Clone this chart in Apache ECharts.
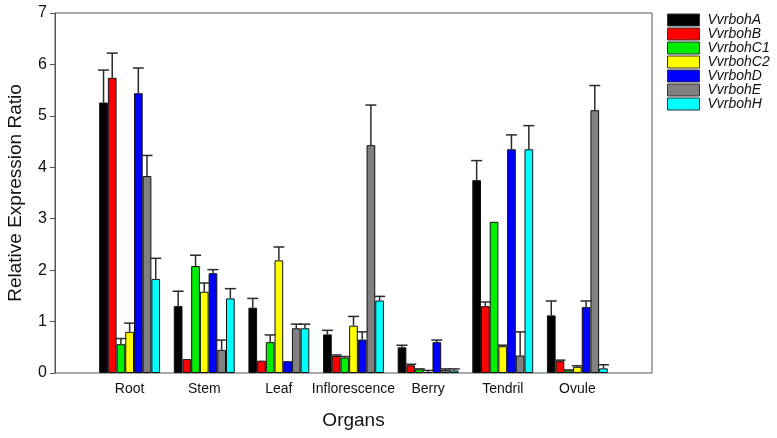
<!DOCTYPE html>
<html>
<head>
<meta charset="utf-8">
<script src="https://cdn.jsdelivr.net/npm/echarts@6/dist/echarts.min.js"></script>
<style>
html,body{margin:0;padding:0;background:#fff;}
#chart{width:777px;height:438px;}
</style>
</head>
<body>
<div id="chart"></div>
<script>
const categories = ['Root', 'Stem', 'Leaf', 'Inflorescence', 'Berry', 'Tendril', 'Ovule'];
const seriesNames = ['VvrbohA', 'VvrbohB', 'VvrbohC1', 'VvrbohC2', 'VvrbohD', 'VvrbohE', 'VvrbohH'];
const colors = ['#000000', '#ff0000', '#00ee00', '#ffff00', '#0000ff', '#808080', '#00ffff'];

const valA  = [5.26, 1.30, 1.27, 0.75, 0.50, 3.75, 1.12];
const errA  = [0.63, 0.29, 0.18, 0.08, 0.04, 0.38, 0.28];
const valB  = [5.74, 0.27, 0.24, 0.33, 0.15, 1.30, 0.23];
const errB  = [0.48, 0.00, 0.00, 0.02, 0.02, 0.08, 0.02];
const valC1 = [0.56, 2.08, 0.60, 0.30, 0.07, 2.94, 0.05];
const errC1 = [0.11, 0.21, 0.14, 0.02, 0.01, 0.00, 0.01];
const valC2 = [0.80, 1.58, 2.19, 0.92, 0.02, 0.52, 0.12];
const errC2 = [0.17, 0.17, 0.26, 0.18, 0.03, 0.02, 0.02];
const valD  = [5.44, 1.94, 0.23, 0.65, 0.60, 4.35, 1.28];
const errD  = [0.49, 0.07, 0.00, 0.15, 0.04, 0.28, 0.12];
const valE  = [3.83, 0.45, 0.87, 4.43, 0.06, 0.34, 5.11];
const errE  = [0.40, 0.19, 0.08, 0.78, 0.02, 0.46, 0.48];
const valH  = [1.83, 1.45, 0.87, 1.41, 0.05, 4.35, 0.09];
const errH  = [0.40, 0.19, 0.08, 0.08, 0.03, 0.46, 0.07];

const yTicks = [0, 1, 2, 3, 4, 5, 6, 7];

const allVals = [valA, valB, valC1, valC2, valD, valE, valH];
const allErrs = [errA, errB, errC1, errC2, errD, errE, errH];

const FONT = 'Arial, "Liberation Sans", sans-serif';
const BAR_W = 8.7;
const axisData = [''].concat(categories, ['']);

const barSeries = seriesNames.map((name, s) => ({
  name: name,
  type: 'bar',
  barWidth: BAR_W,
  barGap: '0%',
  itemStyle: { color: colors[s], borderColor: '#111', borderWidth: 1 },
  data: [null].concat(allVals[s], [null]),
  z: 2
}));

const errData = [];
allVals.forEach((vals, s) => {
  vals.forEach((v, i) => { errData.push([i + 1, v, allErrs[s][i], s]); });
});

const errSeries = {
  type: 'custom',
  z: 5,
  silent: true,
  data: errData,
  renderItem: function (params, api) {
    const err = api.value(2);
    if (!(err > 0)) return null;
    const s = api.value(3);
    const base = api.coord([api.value(0), api.value(1)]);
    const top = api.coord([api.value(0), api.value(1) + err]);
    const x = base[0] + (s - 3) * BAR_W;
    const capHalf = 5.5;
    const st = { stroke: '#2a2a2a', lineWidth: 1.5 };
    return {
      type: 'group',
      children: [
        { type: 'line', shape: { x1: x, y1: base[1], x2: x, y2: top[1] }, style: st },
        { type: 'line', shape: { x1: x - capHalf, y1: top[1], x2: x + capHalf, y2: top[1] }, style: st }
      ]
    };
  }
};

const chart = echarts.init(document.getElementById('chart'), null, { renderer: 'canvas' });
chart.setOption({
  backgroundColor: '#ffffff',
  animation: false,
  legend: {
    orient: 'vertical',
    left: 667,
    top: 13,
    padding: 0,
    itemWidth: 32,
    itemHeight: 12,
    itemGap: 0,
    icon: 'rect',
    data: seriesNames,
    textStyle: { fontFamily: FONT, fontSize: 14, fontStyle: 'italic', color: '#111', lineHeight: 13.4, padding: [0, 0, 0, 3] },
    itemStyle: { borderColor: '#333', borderWidth: 1 }
  },
  grid: {
    left: 55, right: 125, top: 13, bottom: 65,
    containLabel: false,
    outerBoundsMode: 'none',
    show: true, borderColor: '#555', borderWidth: 1, backgroundColor: 'transparent'
  },
  xAxis: {
    type: 'category',
    data: axisData,
    boundaryGap: false,
    name: 'Organs',
    nameLocation: 'middle',
    nameGap: 38,
    nameTextStyle: { fontFamily: FONT, fontSize: 19, color: '#111' },
    axisLine: { show: false },
    axisTick: { show: false },
    axisLabel: { interval: 0, fontFamily: FONT, fontSize: 14, color: '#111', margin: 9 },
    splitLine: { show: false }
  },
  yAxis: {
    type: 'value',
    min: 0, max: 7, interval: 1,
    name: 'Relative Expression Ratio',
    nameLocation: 'middle',
    nameGap: 30,
    nameTextStyle: { fontFamily: FONT, fontSize: 19, color: '#111' },
    axisLine: { show: true, onZero: false, lineStyle: { color: '#555', width: 1 } },
    axisTick: { show: true, inside: false, length: 5, lineStyle: { color: '#555' } },
    axisLabel: {
      fontFamily: FONT, fontSize: 16, color: '#111', margin: 8,
      formatter: function (v) { return yTicks.indexOf(v) >= 0 ? String(v) : ''; }
    },
    splitLine: { show: false }
  },
  series: barSeries.concat([errSeries])
});
</script>
</body>
</html>
